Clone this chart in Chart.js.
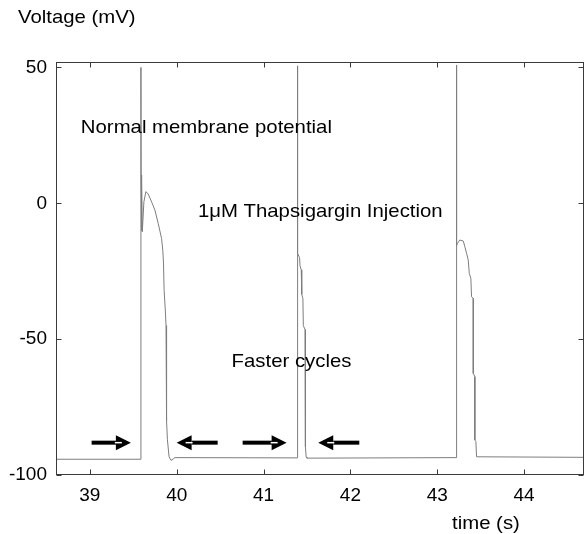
<!DOCTYPE html>
<html>
<head>
<meta charset="utf-8">
<script src="https://cdn.jsdelivr.net/npm/chart.js@4.4.1/dist/chart.umd.min.js"></script>
<style>
  html, body { margin: 0; padding: 0; background: #ffffff; }
  #wrap { width: 585px; height: 534px; position: relative; }
</style>
</head>
<body>
<div id="wrap"><canvas id="c" width="585" height="534"></canvas></div>
<script>
// ---- data ----
const timeS = [
  38.61, 39.588, 39.588, 39.590, 39.592, 39.594, 39.597, 39.600, 39.604,
  39.622, 39.645, 39.672, 39.711, 39.749, 39.787, 39.826, 39.840, 39.848,
  39.855, 39.870, 39.877, 39.880, 39.886, 39.893, 39.912, 39.935, 39.960, 39.975,
  41.388, 41.388, 41.396, 41.415, 41.420, 41.434, 41.440, 41.453, 41.458,
  41.478, 41.482, 41.491, 41.500,
  43.222, 43.222, 43.224, 43.234, 43.260, 43.300, 43.318, 43.338, 43.357,
  43.369, 43.387, 43.395, 43.415, 43.415, 43.433, 43.433, 43.445, 43.453, 44.69
];
const voltageMV = [
  -94.2, -94.2, 50.0, 10.4, -8.5, 9.0, -10.0, 8.0, -10.5,
  0.5, 4.3, 3.4, 0.5, -2.5, -7.4, -13.0, -17.5, -22.0,
  -32.0, -40.0, -45.0, -60.0, -80.0, -87.0, -93.3, -94.6, -94.2, -93.6,
  -93.7, 50.6, -18.5, -20.0, -23.0, -24.5, -33.5, -35.0, -45.0,
  -46.5, -89.6, -93.4, -93.8,
  -93.6, 50.9, -15.5, -14.7, -13.5, -13.9, -16.0, -18.4, -20.9,
  -25.8, -27.6, -34.4, -35.0, -62.6, -63.8, -87.1, -87.7, -93.3, -93.5
];
const xTickValues = [39, 40, 41, 42, 43, 44];
const yTickValues = [-100, -50, 0, 50];
const xRange = [38.61, 44.69];
const yRange = [-100, 52];

// annotations (data coordinates)
const arrowTailT = [39.020, 40.460, 40.759, 42.091];
const arrowTipT  = [39.472, 39.999, 41.266, 41.630];
const arrowV     = [-88.1, -88.1, -88.1, -88.1];
const noteTexts  = ["Normal membrane potential", "1\u03BCM Thapsigargin Injection", "Faster cycles"];
const noteT      = [38.896, 40.244, 40.632];
const noteV      = [26.0, -5.0, -60.2];
const yTitle = "Voltage (mV)";
const xTitle = "time (s)";

const FONT = '"Liberation Sans", Arial, Helvetica, sans-serif';

function stretchedText(ctx, txt, x, y, size, sx) {
  ctx.save();
  ctx.font = size + 'px ' + FONT;
  ctx.fillStyle = '#000';
  ctx.textBaseline = 'alphabetic';
  ctx.textAlign = 'left';
  ctx.translate(x, y);
  ctx.scale(sx, 1);
  ctx.fillText(txt, 0, 0);
  ctx.restore();
}

const framePlugin = {
  id: 'frame',
  afterDraw(chart) {
    const ctx = chart.ctx;
    const a = chart.chartArea;
    const xs = chart.scales.x, ys = chart.scales.y;
    ctx.save();
    ctx.strokeStyle = '#3a3a3a';
    ctx.lineWidth = 1;
    const L = Math.round(a.left) + 0.5, R = Math.round(a.right) - 0.5;
    const T = Math.round(a.top) + 0.5, B = Math.round(a.bottom) - 0.5;
    ctx.strokeRect(L, T, R - L, B - T);
    ctx.beginPath();
    xTickValues.forEach(v => {
      const px = Math.round(xs.getPixelForValue(v)) + 0.5;
      ctx.moveTo(px, B); ctx.lineTo(px, B - 5);
      ctx.moveTo(px, T); ctx.lineTo(px, T + 5);
    });
    yTickValues.forEach(v => {
      const py = Math.round(ys.getPixelForValue(v)) + 0.5;
      ctx.moveTo(L, py); ctx.lineTo(L + 5, py);
      ctx.moveTo(R, py); ctx.lineTo(R - 5, py);
    });
    ctx.stroke();

    // arrows
    for (let i = 0; i < arrowTailT.length; i++) {
      const x0 = xs.getPixelForValue(arrowTailT[i]);
      const x1 = xs.getPixelForValue(arrowTipT[i]);
      const y = ys.getPixelForValue(arrowV[i]);
      const dir = Math.sign(x1 - x0);
      const headLen = 15, headHalf = 7.5;
      const xb = x1 - dir * headLen;
      ctx.fillStyle = '#000';
      ctx.fillRect(Math.min(x0, xb), y - 2, Math.abs(xb - x0) + 1, 4);
      ctx.beginPath();
      ctx.moveTo(x1, y);
      ctx.lineTo(xb, y - headHalf);
      ctx.lineTo(xb, y + headHalf);
      ctx.closePath();
      ctx.fill();
      ctx.strokeStyle = '#fff';
      ctx.lineWidth = 1.5;
      ctx.beginPath();
      ctx.moveTo(xb - dir * 1, y);
      ctx.lineTo(xb + dir * 6, y);
      ctx.stroke();
    }

    // notes
    for (let i = 0; i < noteTexts.length; i++) {
      stretchedText(ctx, noteTexts[i], xs.getPixelForValue(noteT[i]), ys.getPixelForValue(noteV[i]), 18.5, 1.1);
    }
    // axis titles
    stretchedText(ctx, yTitle, 18, 23, 18.5, 1.1);
    stretchedText(ctx, xTitle, 452, 529, 18.5, 1.1);
    ctx.restore();
  }
};

new Chart(document.getElementById('c'), {
  type: 'scatter',
  data: {
    datasets: [{
      data: timeS.map((t, i) => ({ x: t, y: voltageMV[i] })),
      showLine: true,
      borderColor: '#7d7d7d',
      borderWidth: 1,
      pointRadius: 0,
      tension: 0,
      fill: false
    }]
  },
  options: {
    responsive: false,
    animation: false,
    devicePixelRatio: 1,
    layout: { padding: { top: 62, right: 1, left: 0, bottom: 0 } },
    plugins: { legend: { display: false }, tooltip: { enabled: false }, title: { display: false } },
    scales: {
      x: {
        type: 'linear',
        min: xRange[0], max: xRange[1],
        grid: { display: false, drawTicks: false },
        border: { display: false },
        afterBuildTicks: s => { s.ticks = xTickValues.map(v => ({ value: v })); },
        afterFit: s => { s.height = 59; },
        ticks: {
          color: '#000', padding: 9,
          font: { family: FONT, size: 19 },
          callback: v => String(v)
        }
      },
      y: {
        type: 'linear',
        min: yRange[0], max: yRange[1],
        grid: { display: false, drawTicks: false },
        border: { display: false },
        afterBuildTicks: s => { s.ticks = yTickValues.map(v => ({ value: v })); },
        afterFit: s => { s.width = 56; },
        ticks: {
          color: '#000', padding: 9,
          font: { family: FONT, size: 19 },
          callback: v => String(v)
        }
      }
    }
  },
  plugins: [framePlugin]
});
</script>
</body>
</html>
